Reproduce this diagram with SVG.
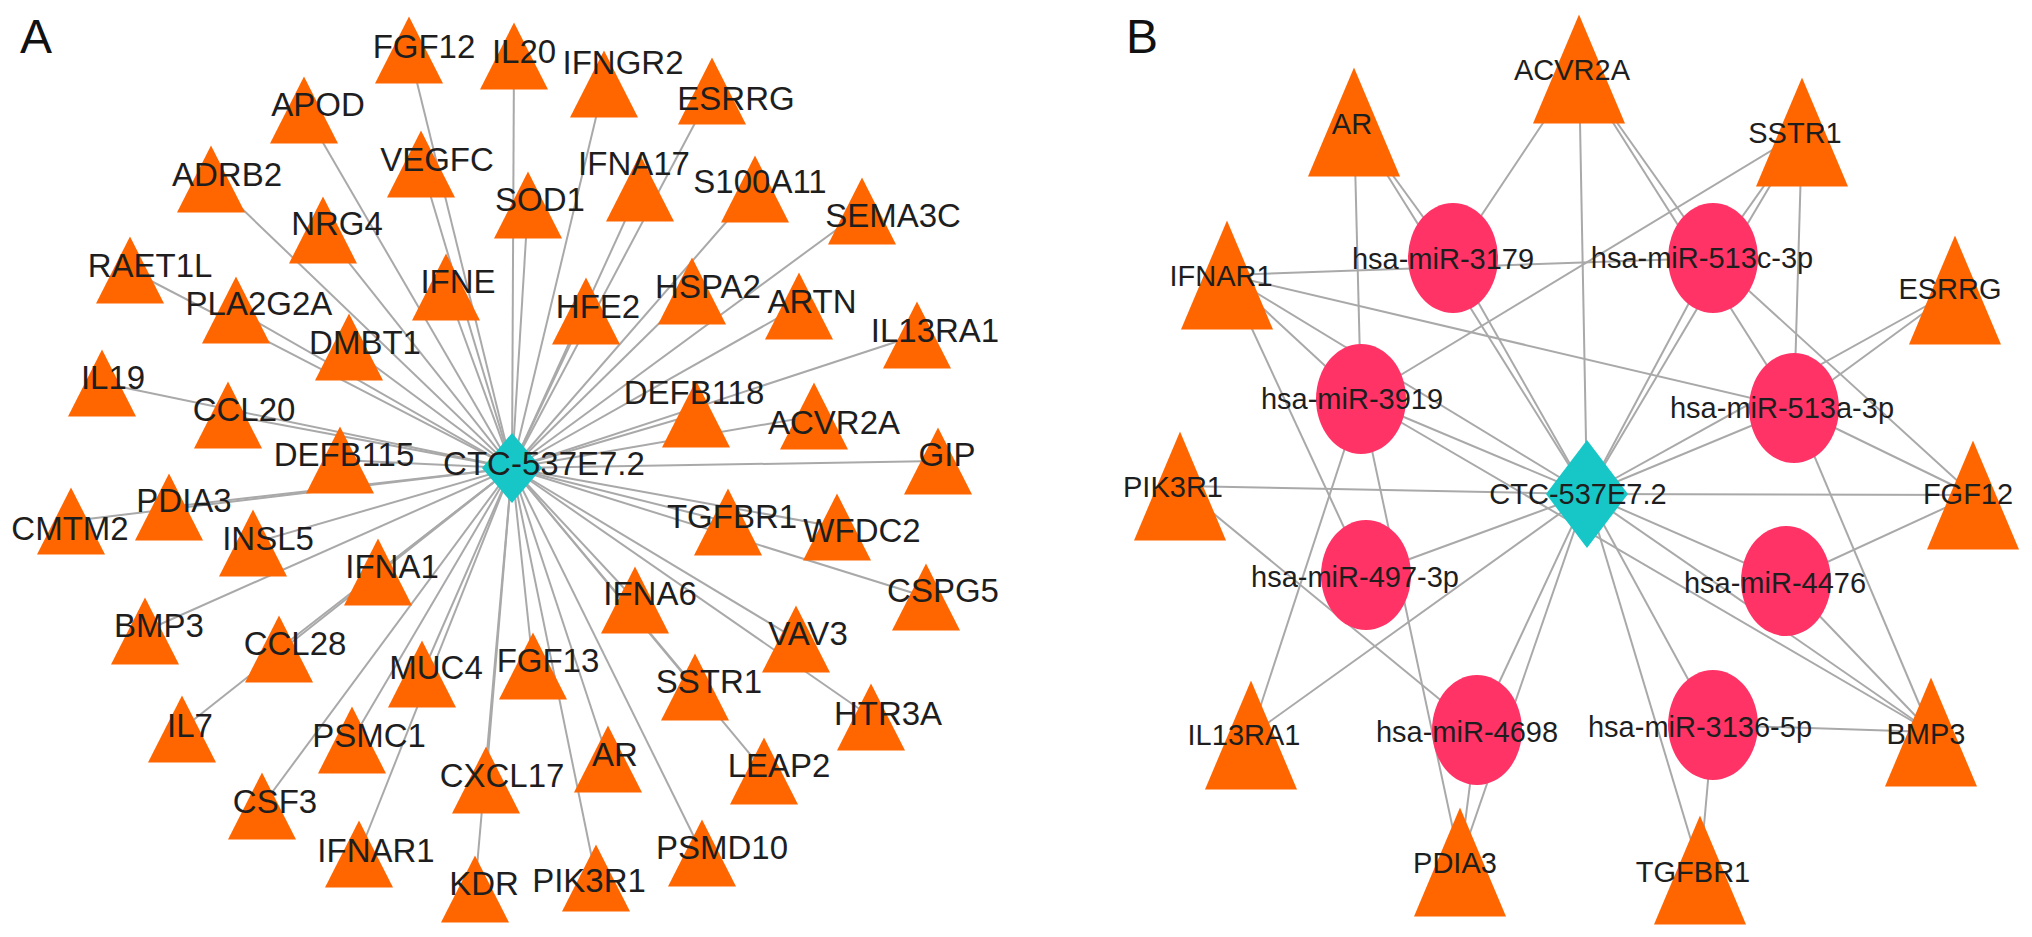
<svg xmlns="http://www.w3.org/2000/svg" width="2032" height="937" viewBox="0 0 2032 937">
<style>
.e{stroke:#a9a9a9;stroke-width:2;fill:none}
.t{fill:#ff6600}
.d{fill:#17c6c6}
.c{fill:#ff3366}
.la{font-family:"Liberation Sans",Arial,sans-serif;font-size:33px;fill:#1e1e1e;text-anchor:middle}
.lb{font-family:"Liberation Sans",Arial,sans-serif;font-size:29px;fill:#1e1e1e;text-anchor:middle}
.pl{font-family:"Liberation Sans",Arial,sans-serif;font-size:48px;fill:#111}
</style>
<defs>
<polygon id="ta" points="0,-33.5 -34,33.5 34,33.5"/>
<polygon id="tb" points="0,-54.5 -46,54.5 46,54.5"/>
</defs>
<rect width="2032" height="937" fill="#fff"/>
<text class="pl" x="20" y="53">A</text>
<text class="pl" x="1126" y="53">B</text>

<g id="edges-A">
<line class="e" x1="512" y1="468" x2="409" y2="50"/>
<line class="e" x1="512" y1="468" x2="514" y2="56"/>
<line class="e" x1="512" y1="468" x2="604" y2="84"/>
<line class="e" x1="512" y1="468" x2="712" y2="91"/>
<line class="e" x1="512" y1="468" x2="304" y2="110"/>
<line class="e" x1="512" y1="468" x2="421" y2="164"/>
<line class="e" x1="512" y1="468" x2="528" y2="205"/>
<line class="e" x1="512" y1="468" x2="640" y2="188"/>
<line class="e" x1="512" y1="468" x2="755" y2="189"/>
<line class="e" x1="512" y1="468" x2="862" y2="211"/>
<line class="e" x1="512" y1="468" x2="211" y2="179"/>
<line class="e" x1="512" y1="468" x2="323" y2="230"/>
<line class="e" x1="512" y1="468" x2="130" y2="270"/>
<line class="e" x1="512" y1="468" x2="446" y2="287"/>
<line class="e" x1="512" y1="468" x2="236" y2="310"/>
<line class="e" x1="512" y1="468" x2="692" y2="291"/>
<line class="e" x1="512" y1="468" x2="799" y2="306"/>
<line class="e" x1="512" y1="468" x2="586" y2="311"/>
<line class="e" x1="512" y1="468" x2="917" y2="335"/>
<line class="e" x1="512" y1="468" x2="349" y2="347"/>
<line class="e" x1="512" y1="468" x2="102" y2="383"/>
<line class="e" x1="512" y1="468" x2="228" y2="415"/>
<line class="e" x1="512" y1="468" x2="340" y2="460"/>
<line class="e" x1="512" y1="468" x2="169" y2="507"/>
<line class="e" x1="512" y1="468" x2="71" y2="521"/>
<line class="e" x1="512" y1="468" x2="253" y2="543"/>
<line class="e" x1="512" y1="468" x2="378" y2="572"/>
<line class="e" x1="512" y1="468" x2="696" y2="414"/>
<line class="e" x1="512" y1="468" x2="814" y2="416"/>
<line class="e" x1="512" y1="468" x2="938" y2="461"/>
<line class="e" x1="512" y1="468" x2="728" y2="522"/>
<line class="e" x1="512" y1="468" x2="837" y2="527"/>
<line class="e" x1="512" y1="468" x2="926" y2="597"/>
<line class="e" x1="512" y1="468" x2="635" y2="600"/>
<line class="e" x1="512" y1="468" x2="145" y2="631"/>
<line class="e" x1="512" y1="468" x2="279" y2="649"/>
<line class="e" x1="512" y1="468" x2="422" y2="674"/>
<line class="e" x1="512" y1="468" x2="182" y2="729"/>
<line class="e" x1="512" y1="468" x2="352" y2="740"/>
<line class="e" x1="512" y1="468" x2="262" y2="806"/>
<line class="e" x1="512" y1="468" x2="359" y2="854"/>
<line class="e" x1="512" y1="468" x2="486" y2="780"/>
<line class="e" x1="512" y1="468" x2="475" y2="889"/>
<line class="e" x1="512" y1="468" x2="533" y2="666"/>
<line class="e" x1="512" y1="468" x2="796" y2="639"/>
<line class="e" x1="512" y1="468" x2="695" y2="687"/>
<line class="e" x1="512" y1="468" x2="871" y2="717"/>
<line class="e" x1="512" y1="468" x2="608" y2="759"/>
<line class="e" x1="512" y1="468" x2="764" y2="771"/>
<line class="e" x1="512" y1="468" x2="702" y2="853"/>
<line class="e" x1="512" y1="468" x2="596" y2="878"/>
</g>

<g id="edges-B">
<line class="e" x1="1587" y1="494" x2="1453" y2="258"/>
<line class="e" x1="1587" y1="494" x2="1713" y2="258"/>
<line class="e" x1="1587" y1="494" x2="1361" y2="399"/>
<line class="e" x1="1587" y1="494" x2="1794" y2="408"/>
<line class="e" x1="1587" y1="494" x2="1366" y2="575"/>
<line class="e" x1="1587" y1="494" x2="1786" y2="581"/>
<line class="e" x1="1587" y1="494" x2="1477" y2="730"/>
<line class="e" x1="1587" y1="494" x2="1713" y2="725"/>
<line class="e" x1="1587" y1="494" x2="1354" y2="122"/>
<line class="e" x1="1587" y1="494" x2="1227" y2="275"/>
<line class="e" x1="1587" y1="494" x2="1579" y2="69"/>
<line class="e" x1="1587" y1="494" x2="1802" y2="132"/>
<line class="e" x1="1587" y1="494" x2="1955" y2="290"/>
<line class="e" x1="1587" y1="494" x2="1180" y2="486"/>
<line class="e" x1="1587" y1="494" x2="1973" y2="495"/>
<line class="e" x1="1587" y1="494" x2="1251" y2="735"/>
<line class="e" x1="1587" y1="494" x2="1460" y2="862"/>
<line class="e" x1="1587" y1="494" x2="1931" y2="732"/>
<line class="e" x1="1587" y1="494" x2="1700" y2="870"/>
<line class="e" x1="1453" y1="258" x2="1354" y2="122"/>
<line class="e" x1="1453" y1="258" x2="1579" y2="69"/>
<line class="e" x1="1713" y1="258" x2="1227" y2="275"/>
<line class="e" x1="1713" y1="258" x2="1579" y2="69"/>
<line class="e" x1="1713" y1="258" x2="1802" y2="132"/>
<line class="e" x1="1713" y1="258" x2="1973" y2="495"/>
<line class="e" x1="1361" y1="399" x2="1354" y2="122"/>
<line class="e" x1="1361" y1="399" x2="1227" y2="275"/>
<line class="e" x1="1361" y1="399" x2="1802" y2="132"/>
<line class="e" x1="1361" y1="399" x2="1251" y2="735"/>
<line class="e" x1="1361" y1="399" x2="1460" y2="862"/>
<line class="e" x1="1361" y1="399" x2="1931" y2="732"/>
<line class="e" x1="1794" y1="408" x2="1227" y2="275"/>
<line class="e" x1="1794" y1="408" x2="1579" y2="69"/>
<line class="e" x1="1794" y1="408" x2="1802" y2="132"/>
<line class="e" x1="1794" y1="408" x2="1955" y2="290"/>
<line class="e" x1="1794" y1="408" x2="1973" y2="495"/>
<line class="e" x1="1794" y1="408" x2="1931" y2="732"/>
<line class="e" x1="1366" y1="575" x2="1227" y2="275"/>
<line class="e" x1="1786" y1="581" x2="1973" y2="495"/>
<line class="e" x1="1786" y1="581" x2="1931" y2="732"/>
<line class="e" x1="1477" y1="730" x2="1180" y2="486"/>
<line class="e" x1="1477" y1="730" x2="1460" y2="862"/>
<line class="e" x1="1713" y1="725" x2="1931" y2="732"/>
<line class="e" x1="1713" y1="725" x2="1700" y2="870"/>
</g>

<g id="A-FGF12"><use href="#ta" class="t" x="409" y="50"/><text class="la" x="424" y="58">FGF12</text></g>
<g id="A-IL20"><use href="#ta" class="t" x="514" y="56"/><text class="la" x="524" y="63">IL20</text></g>
<g id="A-IFNGR2"><use href="#ta" class="t" x="604" y="84"/><text class="la" x="623" y="74">IFNGR2</text></g>
<g id="A-ESRRG"><use href="#ta" class="t" x="712" y="91"/><text class="la" x="736" y="110">ESRRG</text></g>
<g id="A-APOD"><use href="#ta" class="t" x="304" y="110"/><text class="la" x="318" y="116">APOD</text></g>
<g id="A-VEGFC"><use href="#ta" class="t" x="421" y="164"/><text class="la" x="437" y="171">VEGFC</text></g>
<g id="A-SOD1"><use href="#ta" class="t" x="528" y="205"/><text class="la" x="540" y="211">SOD1</text></g>
<g id="A-IFNA17"><use href="#ta" class="t" x="640" y="188"/><text class="la" x="634" y="175">IFNA17</text></g>
<g id="A-S100A11"><use href="#ta" class="t" x="755" y="189"/><text class="la" x="760" y="193">S100A11</text></g>
<g id="A-SEMA3C"><use href="#ta" class="t" x="862" y="211"/><text class="la" x="893" y="227">SEMA3C</text></g>
<g id="A-ADRB2"><use href="#ta" class="t" x="211" y="179"/><text class="la" x="227" y="186">ADRB2</text></g>
<g id="A-NRG4"><use href="#ta" class="t" x="323" y="230"/><text class="la" x="337" y="235">NRG4</text></g>
<g id="A-RAET1L"><use href="#ta" class="t" x="130" y="270"/><text class="la" x="150" y="277">RAET1L</text></g>
<g id="A-IFNE"><use href="#ta" class="t" x="446" y="287"/><text class="la" x="458" y="293">IFNE</text></g>
<g id="A-PLA2G2A"><use href="#ta" class="t" x="236" y="310"/><text class="la" x="259" y="315">PLA2G2A</text></g>
<g id="A-HSPA2"><use href="#ta" class="t" x="692" y="291"/><text class="la" x="708" y="298">HSPA2</text></g>
<g id="A-ARTN"><use href="#ta" class="t" x="799" y="306"/><text class="la" x="812" y="313">ARTN</text></g>
<g id="A-HFE2"><use href="#ta" class="t" x="586" y="311"/><text class="la" x="598" y="318">HFE2</text></g>
<g id="A-IL13RA1"><use href="#ta" class="t" x="917" y="335"/><text class="la" x="935" y="342">IL13RA1</text></g>
<g id="A-DMBT1"><use href="#ta" class="t" x="349" y="347"/><text class="la" x="365" y="354">DMBT1</text></g>
<g id="A-IL19"><use href="#ta" class="t" x="102" y="383"/><text class="la" x="113" y="389">IL19</text></g>
<g id="A-CCL20"><use href="#ta" class="t" x="228" y="415"/><text class="la" x="244" y="421">CCL20</text></g>
<g id="A-DEFB115"><use href="#ta" class="t" x="340" y="460"/><text class="la" x="344" y="466">DEFB115</text></g>
<g id="A-PDIA3"><use href="#ta" class="t" x="169" y="507"/><text class="la" x="184" y="512">PDIA3</text></g>
<g id="A-CMTM2"><use href="#ta" class="t" x="71" y="521"/><text class="la" x="70" y="540">CMTM2</text></g>
<g id="A-INSL5"><use href="#ta" class="t" x="253" y="543"/><text class="la" x="268" y="550">INSL5</text></g>
<g id="A-IFNA1"><use href="#ta" class="t" x="378" y="572"/><text class="la" x="392" y="578">IFNA1</text></g>
<g id="A-DEFB118"><use href="#ta" class="t" x="696" y="414"/><text class="la" x="694" y="404">DEFB118</text></g>
<g id="A-ACVR2A"><use href="#ta" class="t" x="814" y="416"/><text class="la" x="834" y="434">ACVR2A</text></g>
<g id="A-GIP"><use href="#ta" class="t" x="938" y="461"/><text class="la" x="947" y="466">GIP</text></g>
<g id="A-TGFBR1"><use href="#ta" class="t" x="728" y="522"/><text class="la" x="732" y="528">TGFBR1</text></g>
<g id="A-WFDC2"><use href="#ta" class="t" x="837" y="527"/><text class="la" x="862" y="542">WFDC2</text></g>
<g id="A-CSPG5"><use href="#ta" class="t" x="926" y="597"/><text class="la" x="943" y="602">CSPG5</text></g>
<g id="A-IFNA6"><use href="#ta" class="t" x="635" y="600"/><text class="la" x="650" y="605">IFNA6</text></g>
<g id="A-BMP3"><use href="#ta" class="t" x="145" y="631"/><text class="la" x="159" y="637">BMP3</text></g>
<g id="A-CCL28"><use href="#ta" class="t" x="279" y="649"/><text class="la" x="295" y="655">CCL28</text></g>
<g id="A-MUC4"><use href="#ta" class="t" x="422" y="674"/><text class="la" x="436" y="679">MUC4</text></g>
<g id="A-IL7"><use href="#ta" class="t" x="182" y="729"/><text class="la" x="190" y="737">IL7</text></g>
<g id="A-PSMC1"><use href="#ta" class="t" x="352" y="740"/><text class="la" x="369" y="747">PSMC1</text></g>
<g id="A-CSF3"><use href="#ta" class="t" x="262" y="806"/><text class="la" x="275" y="813">CSF3</text></g>
<g id="A-IFNAR1"><use href="#ta" class="t" x="359" y="854"/><text class="la" x="376" y="862">IFNAR1</text></g>
<g id="A-CXCL17"><use href="#ta" class="t" x="486" y="780"/><text class="la" x="502" y="787">CXCL17</text></g>
<g id="A-KDR"><use href="#ta" class="t" x="475" y="889"/><text class="la" x="484" y="895">KDR</text></g>
<g id="A-FGF13"><use href="#ta" class="t" x="533" y="666"/><text class="la" x="548" y="672">FGF13</text></g>
<g id="A-VAV3"><use href="#ta" class="t" x="796" y="639"/><text class="la" x="808" y="645">VAV3</text></g>
<g id="A-SSTR1"><use href="#ta" class="t" x="695" y="687"/><text class="la" x="709" y="693">SSTR1</text></g>
<g id="A-HTR3A"><use href="#ta" class="t" x="871" y="717"/><text class="la" x="888" y="725">HTR3A</text></g>
<g id="A-AR"><use href="#ta" class="t" x="608" y="759"/><text class="la" x="615" y="766">AR</text></g>
<g id="A-LEAP2"><use href="#ta" class="t" x="764" y="771"/><text class="la" x="779" y="777">LEAP2</text></g>
<g id="A-PSMD10"><use href="#ta" class="t" x="702" y="853"/><text class="la" x="722" y="859">PSMD10</text></g>
<g id="A-PIK3R1"><use href="#ta" class="t" x="596" y="878"/><text class="la" x="589" y="892">PIK3R1</text></g>
<g id="A-CTC-537E7.2"><polygon class="d" points="512,433 542,468 512,503 482,468"/><text class="la" x="544" y="475">CTC-537E7.2</text></g>

<g id="B-AR"><use href="#tb" class="t" x="1354" y="122"/><text class="lb" x="1352" y="134">AR</text></g>
<g id="B-IFNAR1"><use href="#tb" class="t" x="1227" y="275"/><text class="lb" x="1221" y="286">IFNAR1</text></g>
<g id="B-ACVR2A"><use href="#tb" class="t" x="1579" y="69"/><text class="lb" x="1572" y="80">ACVR2A</text></g>
<g id="B-SSTR1"><use href="#tb" class="t" x="1802" y="132"/><text class="lb" x="1795" y="143">SSTR1</text></g>
<g id="B-ESRRG"><use href="#tb" class="t" x="1955" y="290"/><text class="lb" x="1950" y="299">ESRRG</text></g>
<g id="B-PIK3R1"><use href="#tb" class="t" x="1180" y="486"/><text class="lb" x="1173" y="497">PIK3R1</text></g>
<g id="B-FGF12"><use href="#tb" class="t" x="1973" y="495"/><text class="lb" x="1968" y="504">FGF12</text></g>
<g id="B-IL13RA1"><use href="#tb" class="t" x="1251" y="735"/><text class="lb" x="1244" y="745">IL13RA1</text></g>
<g id="B-PDIA3"><use href="#tb" class="t" x="1460" y="862"/><text class="lb" x="1455" y="873">PDIA3</text></g>
<g id="B-BMP3"><use href="#tb" class="t" x="1931" y="732"/><text class="lb" x="1926" y="744">BMP3</text></g>
<g id="B-TGFBR1"><use href="#tb" class="t" x="1700" y="870"/><text class="lb" x="1693" y="882">TGFBR1</text></g>
<g id="B-miR-3179"><ellipse class="c" cx="1453" cy="258" rx="45" ry="55"/><text class="lb" x="1443" y="269">hsa-miR-3179</text></g>
<g id="B-miR-513c-3p"><ellipse class="c" cx="1713" cy="258" rx="45" ry="55"/><text class="lb" x="1702" y="268">hsa-miR-513c-3p</text></g>
<g id="B-miR-3919"><ellipse class="c" cx="1361" cy="399" rx="45" ry="55"/><text class="lb" x="1352" y="409">hsa-miR-3919</text></g>
<g id="B-miR-513a-3p"><ellipse class="c" cx="1794" cy="408" rx="45" ry="55"/><text class="lb" x="1782" y="418">hsa-miR-513a-3p</text></g>
<g id="B-miR-497-3p"><ellipse class="c" cx="1366" cy="575" rx="45" ry="55"/><text class="lb" x="1355" y="587">hsa-miR-497-3p</text></g>
<g id="B-miR-4476"><ellipse class="c" cx="1786" cy="581" rx="45" ry="55"/><text class="lb" x="1775" y="593">hsa-miR-4476</text></g>
<g id="B-miR-4698"><ellipse class="c" cx="1477" cy="730" rx="45" ry="55"/><text class="lb" x="1467" y="742">hsa-miR-4698</text></g>
<g id="B-miR-3136-5p"><ellipse class="c" cx="1713" cy="725" rx="45" ry="55"/><text class="lb" x="1700" y="737">hsa-miR-3136-5p</text></g>
<g id="B-CTC-537E7.2"><polygon class="d" points="1587,440 1628,494 1587,548 1546,494"/><text class="lb" x="1578" y="504">CTC-537E7.2</text></g>
</svg>
